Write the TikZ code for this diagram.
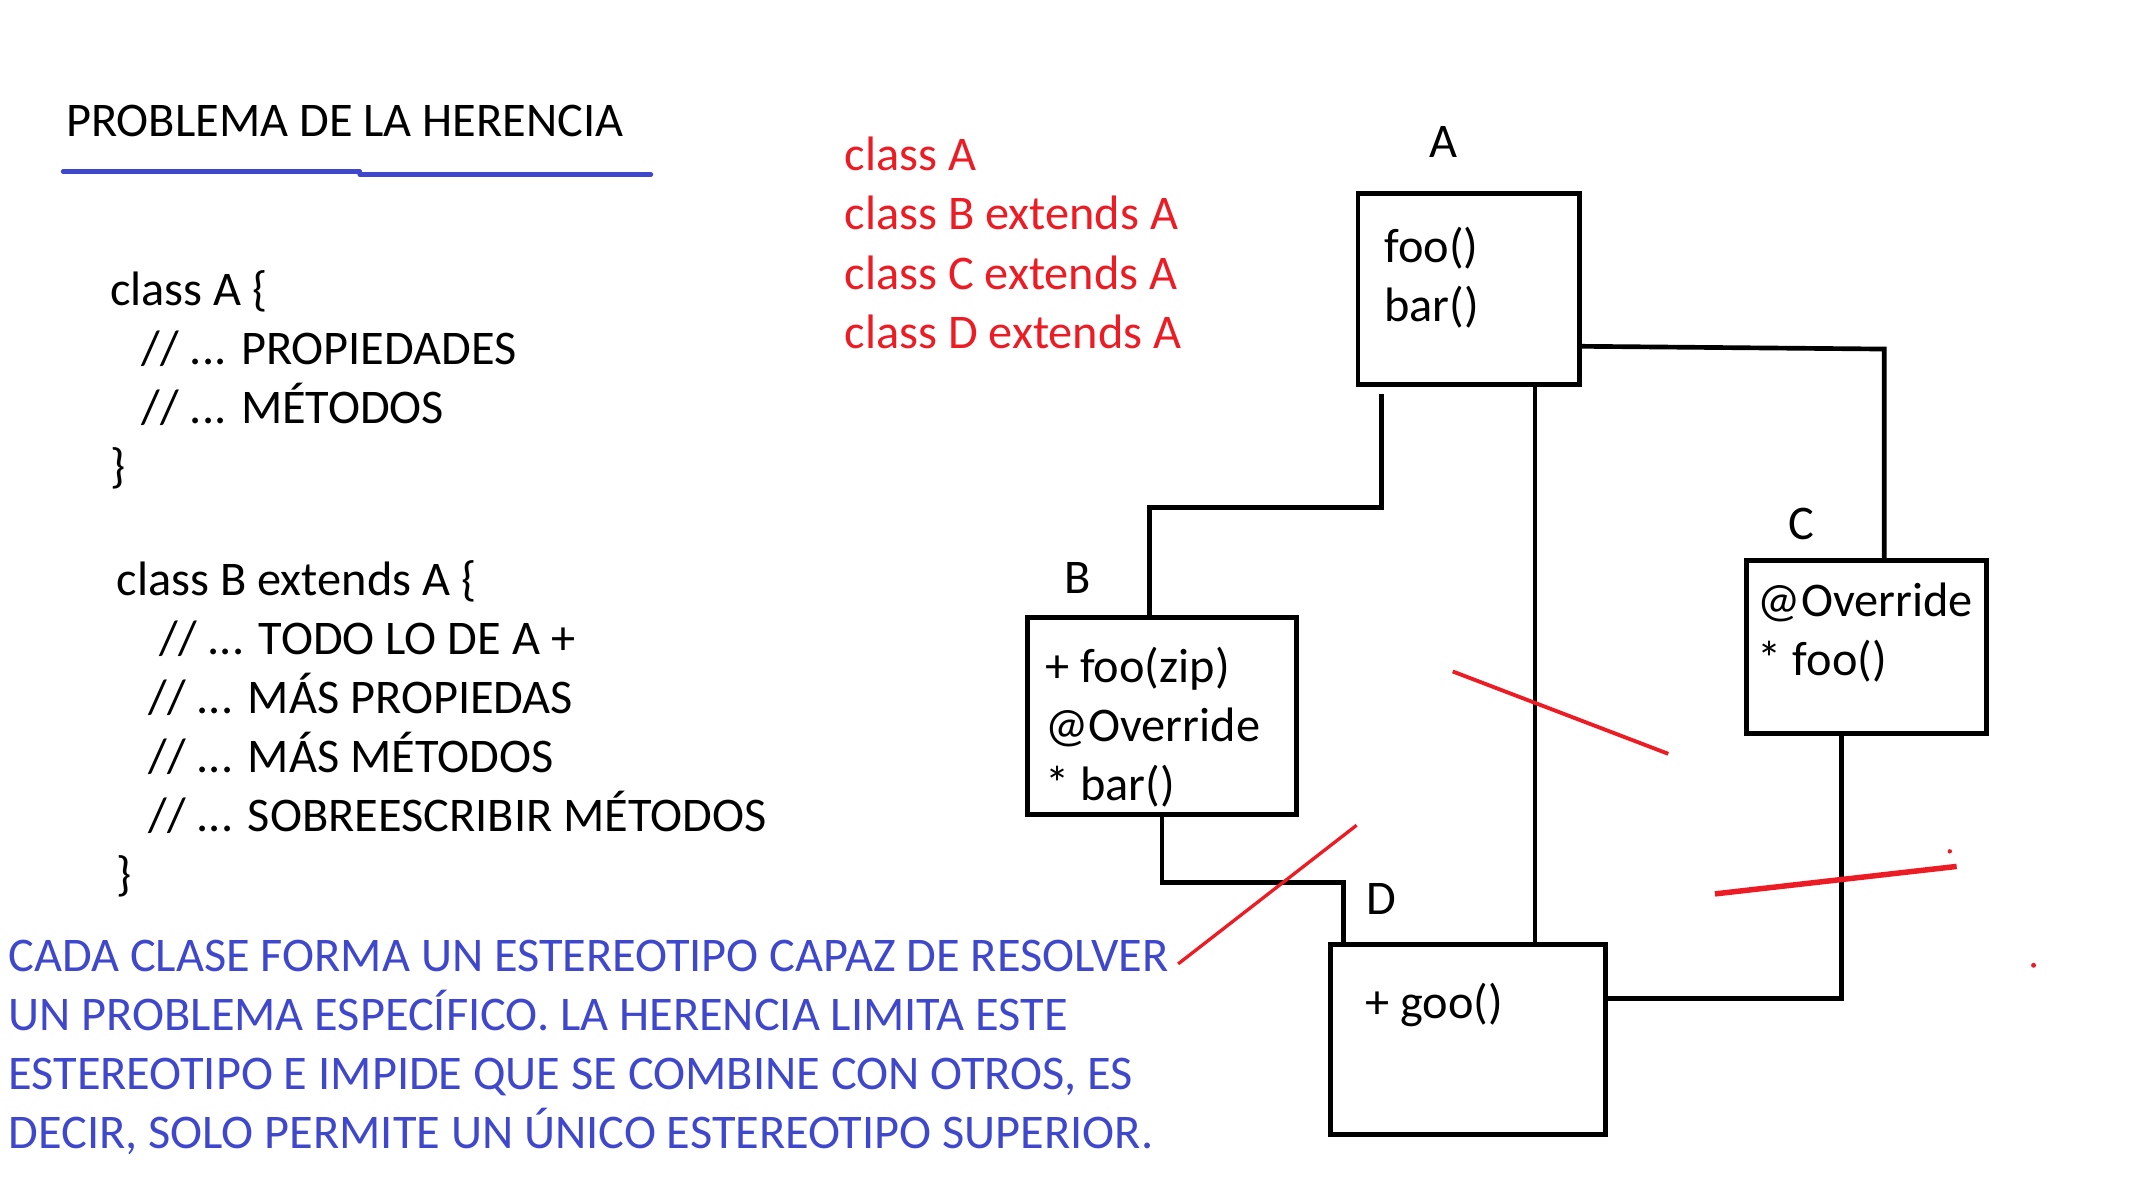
\documentclass[tikz,border=0pt]{standalone}
\usepackage{fontspec}
\setmainfont{Carlito}
\usetikzlibrary{calc}
\definecolor{pblue}{RGB}{63,72,204}
\definecolor{pred}{RGB}{237,28,36}
\tikzset{
  txt/.style={anchor=base west, inner sep=0pt, font=\fontsize{35.2}{43}\selectfont},
  lbl/.style={anchor=base, inner sep=0pt, font=\fontsize{35.2}{43}\selectfont},
  umlbox/.style={draw=black, line width=3.6pt, inner sep=0pt},
  conn/.style={draw=black, line width=3.4pt},
  thinconn/.style={draw=black, line width=3pt},
  strike/.style={draw=pred, line width=2.8pt},
}
\begin{document}
\begin{tikzpicture}[x=1pt,y=-1pt]
\useasboundingbox (0,0) rectangle (1568,868);
\fill[white] (0,0) rectangle (1568,868);

% title
\node[txt] (title) at (48,99.5) {PROBLEMA DE LA HERENCIA};
\draw[pblue, line width=3.4pt, line cap=round] (46,125) -- (262,125);
\draw[pblue, line width=3.4pt, line cap=round] (262,127) -- (474,127);

% code block A
\node[txt] (ca1) at (80,222.5) {class A \{};
\node[txt] (ca2) at (103,265.5) {// ... PROPIEDADES};
\node[txt] (ca3) at (103,308.5) {// ... MÉTODOS};
\node[txt] (ca4) at (80,351.5) {\}};

% code block B
\node[txt] (cb1) at (85,433.5) {class B extends A \{};
\node[txt] (cb2) at (116,476.5) {// ... TODO LO DE A +};
\node[txt] (cb3) at (108,519.5) {// ... MÁS PROPIEDAS};
\node[txt] (cb4) at (108,562.5) {// ... MÁS MÉTODOS};
\node[txt] (cb5) at (108,605.5) {// ... SOBREESCRIBIR MÉTODOS};
\node[txt] (cb6) at (85,648.5) {\}};

% red declarations
\node[txt, text=pred] (r1) at (615,124.5) {class A};
\node[txt, text=pred] (r2) at (615,167.5) {class B extends A};
\node[txt, text=pred] (r3) at (615,210.5) {class C extends A};
\node[txt, text=pred] (r4) at (615,253.5) {class D extends A};

% blue paragraph
\node[txt, text=pblue] (p1) at (6,707.5) {CADA CLASE FORMA UN ESTEREOTIPO CAPAZ DE RESOLVER};
\node[txt, text=pblue] (p2) at (6,750.5) {UN PROBLEMA ESPECÍFICO. LA HERENCIA LIMITA ESTE};
\node[txt, text=pblue] (p3) at (6,793.5) {ESTEREOTIPO E IMPIDE QUE SE COMBINE CON OTROS, ES};
\node[txt, text=pblue] (p4) at (6,836.5) {DECIR, SOLO PERMITE UN ÚNICO ESTEREOTIPO SUPERIOR.};

% boxes
\node[umlbox, minimum width=161pt, minimum height=139pt] (A) at (1069.5,210.5) {};
\node[umlbox, minimum width=196pt, minimum height=143pt] (B) at (846,521.5) {};
\node[umlbox, minimum width=175pt, minimum height=126pt] (C) at (1359.5,471) {};
\node[umlbox, minimum width=200pt, minimum height=138pt] (D) at (1069,757) {};

% box labels
\node[lbl] (lA) at (1051,115) {A};
\node[lbl] (lB) at (785,432) {B};
\node[lbl] (lC) at (1312,393) {C};
\node[lbl] (lD) at (1006,666) {D};

% box contents
\node[txt] (a1) at (1008,191) {foo()};
\node[txt] (a2) at (1008,234) {bar()};
\node[txt] (b1) at (761,497) {+ foo(zip)};
\node[txt] (b2) at (761,540) {@Override};
\node[txt] (b3) at (761,583) {* bar()};
\node[txt] (c1) at (1280,449) {@Override};
\node[txt] (c2) at (1280,492) {* foo()};
\node[txt] (d1) at (994,742) {+ goo()};

% connectors
\draw[conn] ($(A.south west)+(19,5)$) -- ++(0,83) -| ($(B.north west)+(91,0)$);
\draw[thinconn] ($(A.south west)+(131,-3)$) -- ($(D.north west)+(151,0)$);
\draw[conn] ($(A.north east)+(0,113)$) -- ($(C.north west)+(102,-152)$) -- ($(C.north west)+(102,0)$);
\draw[conn] ($(B.south west)+(100,0)$) -- ++(0,48) -| ($(D.north west)+(11,0)$);
\draw[conn] ($(C.south west)+(71,0)$) |- ($(D.north east)+(0,41)$);

% red strike marks
\draw[strike] (1058,489) -- (1215,549);
\draw[strike, line width=2.4pt] (988,601) -- (858,702);
\draw[strike, line width=4pt] (1249,651) -- (1425,631);
\fill[pred] (1420,620) circle (1.6pt);
\fill[pred] (1481,703) circle (1.8pt);
\end{tikzpicture}
\end{document}
